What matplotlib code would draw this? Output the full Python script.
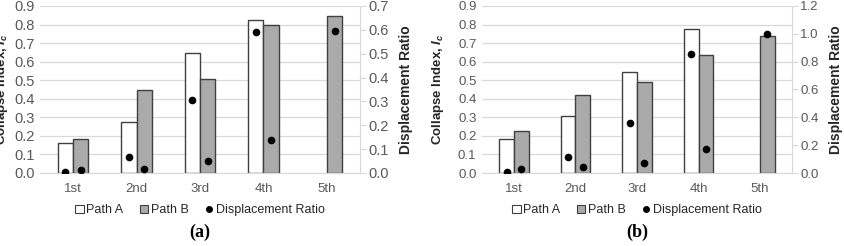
import matplotlib
matplotlib.use('Agg')
import matplotlib.pyplot as plt
import numpy as np
from matplotlib.lines import Line2D
from matplotlib.patches import Patch

plt.rcParams['font.family'] = 'Liberation Sans'
plt.rcParams['mathtext.fontset'] = 'custom'
plt.rcParams['mathtext.it'] = 'Liberation Sans:italic:bold'
plt.rcParams['mathtext.rm'] = 'Liberation Sans:bold'

categories = ['1st', '2nd', '3rd', '4th', '5th']

# panel (a)
path_a_a = [0.164, 0.276, 0.645, 0.822, np.nan]
path_b_a = [0.182, 0.448, 0.508, 0.798, 0.845]
disp_a_a = [0.006, 0.065, 0.307, 0.589, np.nan]
disp_b_a = [0.014, 0.015, 0.052, 0.140, 0.597]

# panel (b)
path_a_b = [0.182, 0.308, 0.547, 0.777, np.nan]
path_b_b = [0.227, 0.420, 0.493, 0.637, 0.736]
disp_a_b = [0.007, 0.115, 0.362, 0.855, np.nan]
disp_b_b = [0.030, 0.040, 0.074, 0.175, 1.0]

W, H = 845, 246
tick_col = '#595959'
grid_col = '#d9d9d9'
edge_col = '#404040'
fill_b = '#aaaaaa'


def panel(left_px, width_px, pa, pb, da, db, rmax, rstep, letter, ylab_x, yfs):
    ax = fig.add_axes([left_px / W, (H - 173) / H, width_px / W, 167 / H])
    x = np.arange(len(categories))
    w = 0.24
    ax.bar(x - w / 2, pa, w, color='white', edgecolor=edge_col, linewidth=1.0, zorder=2)
    ax.bar(x + w / 2, pb, w, color=fill_b, edgecolor=edge_col, linewidth=1.0, zorder=2)
    ax.set_ylim(0, 0.9)
    ax.set_yticks(np.arange(0, 0.91, 0.1))
    ax.set_yticklabels(['%.1f' % v for v in np.arange(0, 0.91, 0.1)])
    ax.set_xlim(-0.52, 4.52)
    ax.set_xticks(x)
    ax.set_xticklabels(categories)
    ax.grid(axis='y', color=grid_col, linewidth=0.9, zorder=0)
    ax.set_axisbelow(True)
    for s in ['top', 'left', 'right']:
        ax.spines[s].set_visible(False)
    ax.spines['bottom'].set_color(grid_col)
    ax.tick_params(axis='y', length=0, labelsize=yfs, colors=tick_col, pad=4)
    ax.tick_params(axis='x', length=0, labelsize=9.5, colors=tick_col, pad=7)
    ax.set_ylabel('Collapse Index, $I_c$', fontsize=9.5, fontweight='bold', color='#262626')
    ax.yaxis.set_label_coords(ylab_x, 0.5)

    ax2 = ax.twinx()
    ax2.plot(x - w / 2, da, 'o', color='black', markersize=4.5, zorder=3)
    ax2.plot(x + w / 2, db, 'o', color='black', markersize=4.5, zorder=3)
    ax2.set_ylim(0, rmax)
    ticks = np.arange(0, rmax + 1e-9, rstep)
    ax2.set_yticks(ticks)
    ax2.set_yticklabels(['%.1f' % v for v in ticks])
    for s in ['top', 'left', 'bottom']:
        ax2.spines[s].set_visible(False)
    ax2.spines['right'].set_color(grid_col)
    ax2.tick_params(axis='y', length=4, color=grid_col, labelsize=yfs, colors=tick_col, pad=2)
    ax2.set_ylabel('Displacement Ratio', fontsize=10, fontweight='bold', color='#262626', labelpad=7)

    handles = [Patch(facecolor='white', edgecolor=edge_col, linewidth=0.8),
               Patch(facecolor=fill_b, edgecolor=edge_col, linewidth=0.8),
               Line2D([], [], marker='o', linestyle='none', color='black', markersize=4)]
    ax.legend(handles, ['Path A', 'Path B', 'Displacement Ratio'], loc='upper center',
              bbox_to_anchor=(0.5, -0.12), ncol=3, frameon=False, fontsize=9,
              handlelength=0.7, handleheight=0.7, handletextpad=0.2, columnspacing=1.3,
              labelcolor='#262626')
    fig.text((left_px + width_px / 2) / W, 1 - 232 / H, letter, ha='center', va='center',
             fontsize=13, fontweight='bold', family='Liberation Serif')
    return ax


fig = plt.figure(figsize=(W / 100, H / 100), dpi=100)
panel(40, 320, path_a_a, path_b_a, disp_a_a, disp_b_a, 0.7, 0.1, '(a)', -0.095, 10.5)
panel(482, 310, path_a_b, path_b_b, disp_a_b, disp_b_b, 1.2, 0.2, '(b)', -0.115, 9.5)
fig.savefig('out.png', dpi=100)
